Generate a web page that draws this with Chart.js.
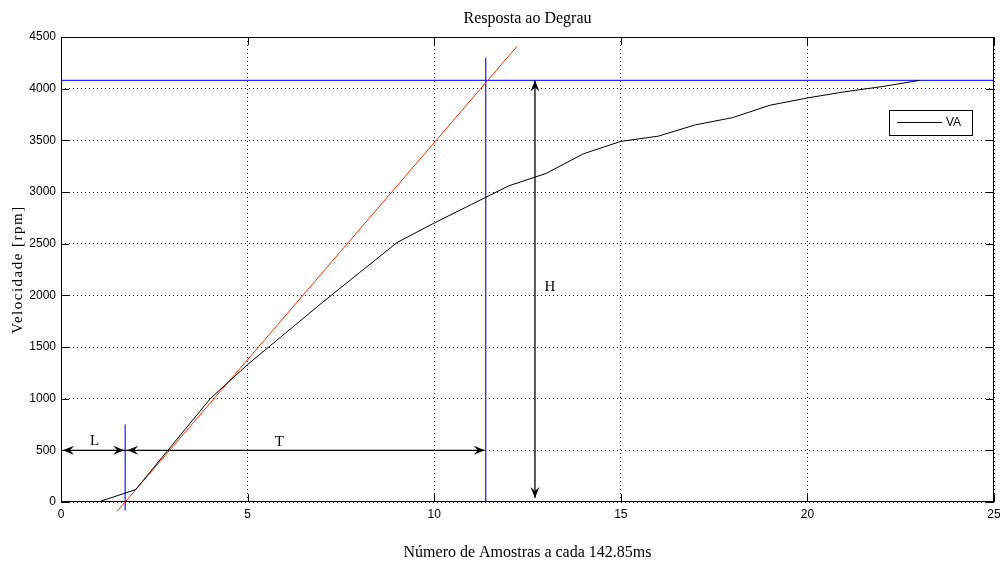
<!DOCTYPE html>
<html>
<head>
<meta charset="utf-8">
<script src="https://cdn.jsdelivr.net/npm/chart.js@4.4.1/dist/chart.umd.min.js"></script>
<style>
  html, body { margin: 0; padding: 0; background: #fff; }
  #wrap { width: 1000px; height: 565px; }
</style>
</head>
<body>
<div id="wrap"><canvas id="stepChart" width="1000" height="565"></canvas></div>
<script>
// sample index (x) and measured speed (VA)
const sampleIdx = [1, 2, 3, 4, 5, 6, 7, 8, 9, 10, 11, 12, 13, 14, 15, 16, 17, 18, 19, 20, 21, 22, 23];
const velocityVA = [0, 120, 560, 1000, 1330, 1630, 1930, 2220, 2510, 2700, 2880, 3060, 3180, 3370, 3490, 3540, 3650, 3720, 3840, 3910, 3970, 4020, 4080];

// tangent line (red)
const tangentX = [1.5, 12.22];
const tangentY = [-92, 4410];

// guide lines / markers
const lMarkX = 1.72;
const tMarkX = 11.38;
const hLevel = 4080;
const hArrowX = 12.7;
const arrowLevel = 500;
const lMarkSpan = [-80, 750];
const tMarkSpan = [0, 4300];

const xTicks = [0, 5, 10, 15, 20, 25];
const yTicks = [0, 500, 1000, 1500, 2000, 2500, 3000, 3500, 4000, 4500];

const pts = (xs, ys) => xs.map((x, i) => ({ x: x, y: ys[i] }));

function drawArrowHead(ctx, tx, ty, dirX, dirY) {
    const len = 11, half = 4.5, notch = 4;
    const px = -dirY, py = dirX;
    ctx.beginPath();
    ctx.moveTo(tx, ty);
    ctx.lineTo(tx - dirX * len + px * half, ty - dirY * len + py * half);
    ctx.lineTo(tx - dirX * (len - notch), ty - dirY * (len - notch));
    ctx.lineTo(tx - dirX * len - px * half, ty - dirY * len - py * half);
    ctx.closePath();
    ctx.fill();
}

const decorPlugin = {
    id: 'decor',
    afterDatasetsDraw(chart) {
        const ctx = chart.ctx;
        const xs = chart.scales.x, ys = chart.scales.y;
        const a = chart.chartArea;
        ctx.save();

        // frame + inward ticks
        ctx.strokeStyle = '#000';
        ctx.lineWidth = 1;
        ctx.strokeRect(a.left + 0.5, a.top + 0.5, a.right - a.left - 1, a.bottom - a.top - 1);
        ctx.beginPath();
        xTicks.forEach(v => {
            const px = Math.round(xs.getPixelForValue(v)) + 0.5;
            ctx.moveTo(px, a.bottom); ctx.lineTo(px, a.bottom - 8);
            ctx.moveTo(px, a.top); ctx.lineTo(px, a.top + 8);
        });
        yTicks.forEach(v => {
            const py = Math.round(ys.getPixelForValue(v)) + 0.5;
            ctx.moveTo(a.left, py); ctx.lineTo(a.left + 8, py);
            ctx.moveTo(a.right, py); ctx.lineTo(a.right - 8, py);
        });
        ctx.stroke();

        // L / T / H arrows
        ctx.fillStyle = '#000';
        ctx.strokeStyle = '#000';
        ctx.lineWidth = 1.3;
        const ay = ys.getPixelForValue(arrowLevel);
        const x0 = xs.getPixelForValue(0) + 2;
        const xl = xs.getPixelForValue(lMarkX);
        const xt = xs.getPixelForValue(tMarkX);
        ctx.beginPath();
        ctx.moveTo(x0, ay); ctx.lineTo(xt - 1, ay);
        ctx.stroke();
        drawArrowHead(ctx, x0, ay, -1, 0);
        drawArrowHead(ctx, xl - 1, ay, 1, 0);
        drawArrowHead(ctx, xl + 2, ay, -1, 0);
        drawArrowHead(ctx, xt - 1, ay, 1, 0);

        const hx = xs.getPixelForValue(hArrowX);
        const hTop = ys.getPixelForValue(hLevel);
        const hBot = ys.getPixelForValue(0) - 4;
        ctx.beginPath();
        ctx.moveTo(hx, hTop); ctx.lineTo(hx, hBot);
        ctx.stroke();
        drawArrowHead(ctx, hx, hTop, 0, -1);
        drawArrowHead(ctx, hx, hBot, 0, 1);

        ctx.font = '15px "Liberation Serif", serif';
        ctx.textAlign = 'center';
        ctx.textBaseline = 'middle';
        ctx.fillText('L', xs.getPixelForValue(0.9), ay - 9);
        ctx.fillText('T', xs.getPixelForValue(5.85), ay - 8);
        ctx.fillText('H', xs.getPixelForValue(13.1), ys.getPixelForValue(2080));

        // legend
        ctx.lineWidth = 1;
        ctx.fillStyle = '#fff';
        ctx.fillRect(889.5, 110.5, 83, 25);
        ctx.strokeRect(889.5, 110.5, 83, 25);
        ctx.beginPath();
        ctx.moveTo(897, 122.5); ctx.lineTo(942, 122.5);
        ctx.stroke();
        ctx.fillStyle = '#000';
        ctx.font = '12px "Liberation Sans", sans-serif';
        ctx.textAlign = 'left';
        ctx.fillText('VA', 946, 123);

        // titles
        ctx.font = '16px "Liberation Serif", serif';
        ctx.textAlign = 'center';
        const cx = (a.left + a.right) / 2;
        ctx.fillText('Resposta ao Degrau', cx, 19);
        ctx.fillText('Número de Amostras a cada 142.85ms', cx, 553);
        ctx.translate(18, (a.top + a.bottom) / 2);
        ctx.rotate(-Math.PI / 2);
        ctx.font = '15px "Liberation Serif", serif';
        ctx.letterSpacing = '1.5px';
        ctx.fillText('Velocidade [rpm]', 0, 0);
        ctx.restore();
    }
};

new Chart(document.getElementById('stepChart'), {
    type: 'line',
    data: {
        datasets: [
            {
                label: 'VA',
                data: pts(sampleIdx, velocityVA),
                borderColor: '#000',
                borderWidth: 1,
                pointRadius: 0,
                tension: 0
            },
            {
                label: 'tangente',
                data: pts(tangentX, tangentY),
                borderColor: '#ff2a00',
                borderWidth: 1,
                pointRadius: 0,
                clip: false
            },
            {
                label: 'H',
                data: pts([0, 25], [hLevel, hLevel]),
                borderColor: '#2a2aff',
                borderWidth: 1.3,
                pointRadius: 0,
                clip: false
            },
            {
                label: 'L',
                data: pts([lMarkX, lMarkX], lMarkSpan),
                borderColor: '#2a2aff',
                borderWidth: 1.3,
                pointRadius: 0,
                clip: false
            },
            {
                label: 'T',
                data: pts([tMarkX, tMarkX], tMarkSpan),
                borderColor: '#2a2aff',
                borderWidth: 1.3,
                pointRadius: 0,
                clip: false
            }
        ]
    },
    options: {
        responsive: false,
        animation: false,
        layout: { padding: { left: 0, right: 6, top: 37, bottom: 0 } },
        plugins: {
            legend: { display: false },
            title: { display: false },
            tooltip: { enabled: false }
        },
        scales: {
            x: {
                type: 'linear',
                min: 0,
                max: 25,
                afterBuildTicks: s => { s.ticks = xTicks.map(v => ({ value: v })); },
                afterFit: s => { s.height = 63; s.paddingRight = 0; s.paddingLeft = 0; },
                ticks: {
                    color: '#000',
                    padding: 5,
                    callback: v => String(v),
                    font: { family: '"Liberation Sans", sans-serif', size: 12 }
                },
                grid: {
                    color: '#000',
                    lineWidth: 1,
                    drawTicks: false
                },
                border: { display: false, dash: [1, 3] }
            },
            y: {
                min: 0,
                max: 4500,
                afterBuildTicks: s => { s.ticks = yTicks.map(v => ({ value: v })); },
                afterFit: s => { s.width = 61; s.paddingTop = 0; s.paddingBottom = 0; },
                ticks: {
                    color: '#000',
                    padding: 5,
                    callback: v => String(v),
                    font: { family: '"Liberation Sans", sans-serif', size: 12 }
                },
                grid: {
                    color: '#000',
                    lineWidth: 1,
                    drawTicks: false
                },
                border: { display: false, dash: [1, 3] }
            }
        }
    },
    plugins: [decorPlugin]
});
</script>
</body>
</html>
